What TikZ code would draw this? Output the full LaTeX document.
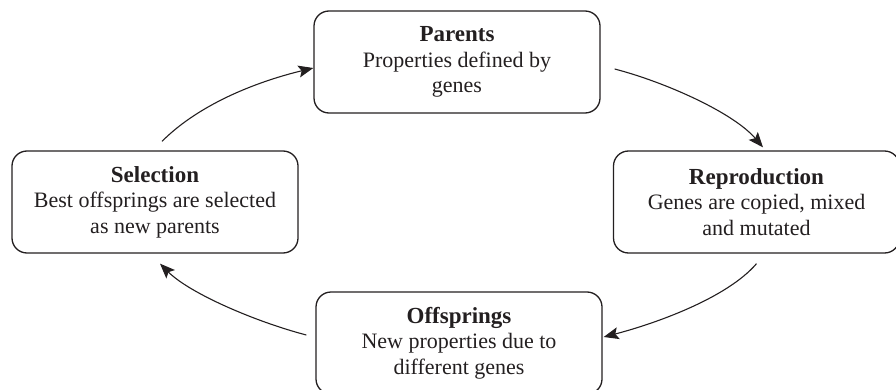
\documentclass[tikz,border=0pt]{standalone}
\usepackage{fontspec}
\setmainfont{Liberation Serif}
\usetikzlibrary{arrows.meta}
\definecolor{ink}{RGB}{35,31,32}
\newcommand{\ttl}[1]{{\fontsize{23}{25}\selectfont\bfseries #1}}
\tikzset{
  stagebox/.style={draw=ink, line width=1.3pt, rounded corners=15pt,
    minimum width=286pt, minimum height=102pt, align=center, text=ink,
    font=\fontsize{22}{25.5}\selectfont, inner sep=0pt},
  arr/.style={draw=ink, line width=1.1pt, -{Stealth[length=15pt,width=12pt,inset=3pt]}}
}
\begin{document}
\begin{tikzpicture}[x=1pt,y=-1pt]
\clip (0,0) rectangle (896,390);
\node[stagebox] (par) at (457,62) {\ttl{Parents}\\Properties defined by\\genes};
\node[stagebox] (rep) at (756.5,202) {\ttl{Reproduction}\\Genes are copied, mixed\\and mutated};
\node[stagebox] (sel) at (155,202) {\ttl{Selection}\\Best offsprings are selected\\as new parents};
\node[stagebox] (off) at (459,343) {\ttl{Offsprings}\\New properties due to\\different genes};
\draw[arr] ([xshift=7pt,yshift=9pt]sel.north) .. controls +(40,-40) and +(-50,12) .. ([yshift=-6pt]par.west);
\draw[arr] ([xshift=14pt,yshift=-7pt]par.east) .. controls +(50,13) and +(-30,-35) .. ([xshift=6.5pt,yshift=3pt]rep.north);
\draw[arr] ([yshift=-10pt]rep.south) .. controls +(-30,35) and +(50,-13) .. ([xshift=1pt,yshift=6pt]off.east);
\draw[arr] ([xshift=-9pt,yshift=8pt]off.west) .. controls +(-50,-13) and +(30,30) .. ([xshift=5pt,yshift=-10pt]sel.south);
\end{tikzpicture}
\end{document}
